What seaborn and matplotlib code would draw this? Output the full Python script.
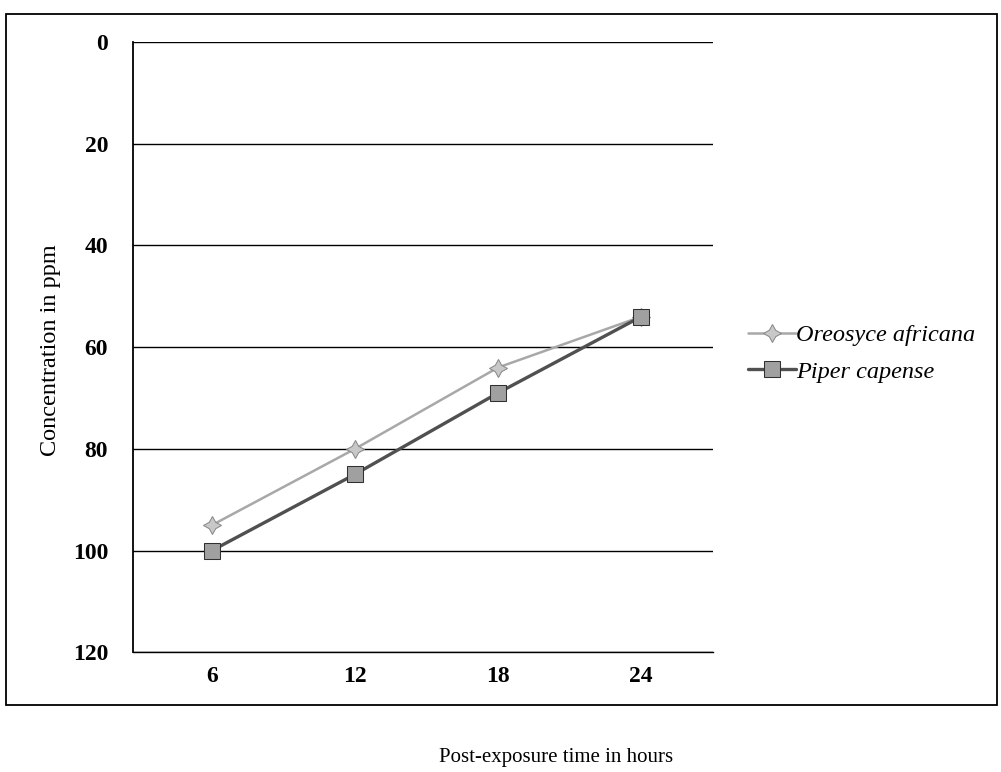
import numpy as np
import pandas as pd
import matplotlib
matplotlib.use("Agg")
import matplotlib.pyplot as plt
import seaborn as sns
from matplotlib.patches import Rectangle

# values
hours = ["6", "12", "18", "24"]
oreosyce = [95, 80, 64, 54]
piper = [100, 85, 69, 54]
y_ticks = [0, 20, 40, 60, 80, 100, 120]

df = pd.DataFrame({
    "hours": hours * 2,
    "conc": oreosyce + piper,
    "species": ["Oreosyce africana"] * 4 + ["Piper capense"] * 4,
})

sns.set_theme(style="white")
plt.rcParams["font.family"] = ["Liberation Serif", "DejaVu Serif"]
plt.rcParams["text.color"] = "black"
plt.rcParams["xtick.color"] = "black"
plt.rcParams["ytick.color"] = "black"

fig = plt.figure(figsize=(10.01, 7.72), dpi=100)
ax = fig.add_axes([0.133, 0.155, 0.579, 0.7906])

# outer frame round the whole chart
fig.patches.append(Rectangle((0.006, 0.087), 0.990, 0.895, transform=fig.transFigure,
                             fill=False, edgecolor="black", linewidth=1.3))

sns.lineplot(data=df[df.species == "Oreosyce africana"], x="hours", y="conc", ax=ax,
             color="#a8a8a8", linewidth=1.8, marker=(4, 1, 0), markersize=13,
             markerfacecolor="#c8c8c8", markeredgecolor="#8a8a8a",
             label="Oreosyce africana")
sns.lineplot(data=df[df.species == "Piper capense"], x="hours", y="conc", ax=ax,
             color="#505050", linewidth=2.4, marker="s", markersize=11,
             markerfacecolor="#a0a0a0", markeredgecolor="#303030",
             label="Piper capense")

ax.set_ylim(120, 0)
ax.set_xlim(-0.55, 3.5)
ax.set_yticks(y_ticks)
ax.yaxis.grid(True, color="black", linewidth=1.0)
ax.xaxis.grid(False)
for s in ["top", "right"]:
    ax.spines[s].set_visible(False)
ax.spines["left"].set_color("black")
ax.spines["bottom"].set_color("black")
ax.spines["left"].set_linewidth(1.3)
ax.spines["bottom"].set_linewidth(1.0)
ax.tick_params(axis="y", length=0, pad=18, labelsize=17)
ax.tick_params(axis="x", length=0, pad=10, labelsize=17)
for lab in ax.get_xticklabels() + ax.get_yticklabels():
    lab.set_fontweight("bold")
ax.set_xlabel("")
ax.set_ylabel("")

fig.text(0.05, 0.547, "Concentration in ppm", rotation=90, ha="center", va="center",
         fontsize=17.5)
fig.text(0.556, 0.019, "Post-exposure time in hours", ha="center", va="center",
         fontsize=15)

ax.get_legend().remove()
fig.legend(*ax.get_legend_handles_labels(), loc="center left",
           bbox_to_anchor=(0.725, 0.542), frameon=False,
           prop={"style": "italic", "size": 17.5}, handlelength=2.0,
           handletextpad=0.0, labelspacing=0.6)

fig.savefig("out.png", dpi=100)
